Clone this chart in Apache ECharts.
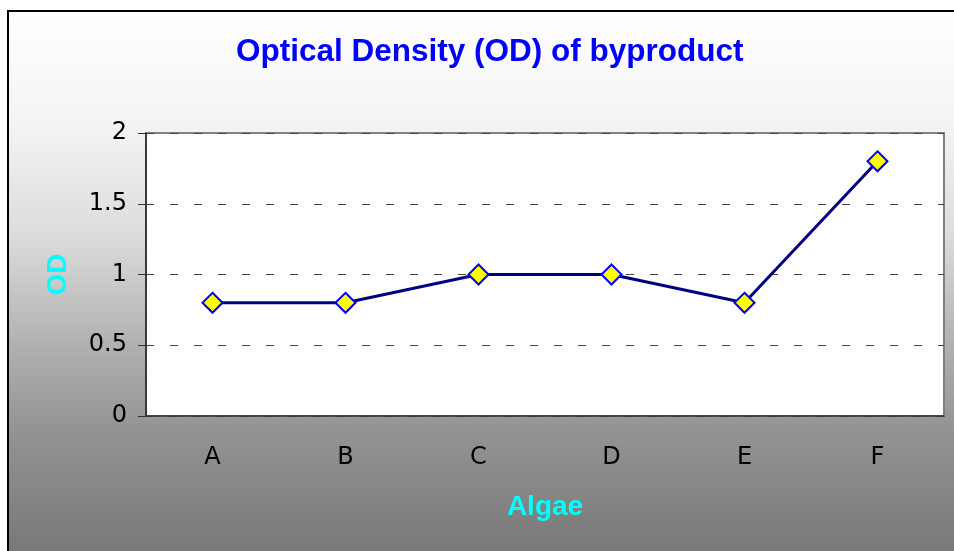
<!DOCTYPE html>
<html>
<head>
<meta charset="utf-8">
<script src="https://cdn.jsdelivr.net/npm/echarts@6/dist/echarts.min.js"></script>
<style>
  html, body { margin: 0; padding: 0; background: #fff; }
  #main { width: 954px; height: 551px; }
</style>
</head>
<body>
<div id="main"></div>
<script>
  // data
  var categories = ['A', 'B', 'C', 'D', 'E', 'F'];
  var odValues = [0.8, 0.8, 1.0, 1.0, 0.8, 1.8];
  var yTicks = { min: 0, max: 2, interval: 0.5 };

  var myChart = echarts.init(document.getElementById('main'));

  var option = {
    backgroundColor: '#fff',
    animation: false,
    graphic: [
      {
        // outer chart frame with grey gradient
        type: 'rect',
        z: -10,
        silent: true,
        shape: { x: 8, y: 11, width: 960, height: 560 },
        style: {
          fill: new echarts.graphic.LinearGradient(0, 0, 0, 1, [
            { offset: 0, color: '#ffffff' },
            { offset: 0.2, color: '#f4f4f4' },
            { offset: 0.4, color: '#dcdcdc' },
            { offset: 0.6, color: '#b0b0b0' },
            { offset: 0.75, color: '#939393' },
            { offset: 1, color: '#747474' }
          ]),
          stroke: '#000',
          lineWidth: 2
        }
      }
    ],
    title: {
      text: 'Optical Density (OD) of byproduct',
      left: 236,
      top: 36,
      padding: 0,
      textStyle: {
        color: '#0000ff',
        fontFamily: 'Liberation Sans',
        fontWeight: 'bold',
        fontSize: 31.5
      }
    },
    grid: {
      left: 146,
      top: 133,
      right: 10,
      bottom: 135,
      show: true,
      backgroundColor: '#fff',
      borderColor: '#808080',
      borderWidth: 2
    },
    xAxis: {
      type: 'category',
      data: categories,
      boundaryGap: true,
      name: 'Algae',
      nameLocation: 'middle',
      nameGap: 77,
      nameTextStyle: {
        color: '#00ffff',
        fontFamily: 'Liberation Sans',
        fontWeight: 'bold',
        fontSize: 28
      },
      axisLine: { lineStyle: { color: '#333', width: 1.5 } },
      axisTick: { length: 9, lineStyle: { color: '#333' } },
      axisLabel: {
        margin: 30,
        color: '#000',
        fontFamily: 'DejaVu Sans',
        fontSize: 24
      },
      splitLine: { show: false }
    },
    yAxis: {
      type: 'value',
      min: yTicks.min,
      max: yTicks.max,
      interval: yTicks.interval,
      name: 'OD',
      nameLocation: 'middle',
      nameRotate: 90,
      nameGap: 74,
      nameTextStyle: {
        color: '#00ffff',
        fontFamily: 'Liberation Sans',
        fontWeight: 'bold',
        fontSize: 28
      },
      axisLine: { show: true, lineStyle: { color: '#222', width: 1.5 } },
      axisTick: { show: true, length: 8, lineStyle: { color: '#333' } },
      axisLabel: {
        margin: 19,
        color: '#000',
        fontFamily: 'DejaVu Sans',
        fontSize: 24
      },
      splitLine: {
        show: true,
        lineStyle: { color: '#444', width: 1, type: [8, 16] }
      }
    },
    series: [
      {
        name: 'OD',
        type: 'line',
        data: odValues,
        symbol: 'diamond',
        symbolSize: 20,
        lineStyle: { color: '#000080', width: 3 },
        itemStyle: {
          color: '#ffff00',
          borderColor: '#0000ff',
          borderWidth: 2
        }
      }
    ]
  };

  myChart.setOption(option);
</script>
</body>
</html>
